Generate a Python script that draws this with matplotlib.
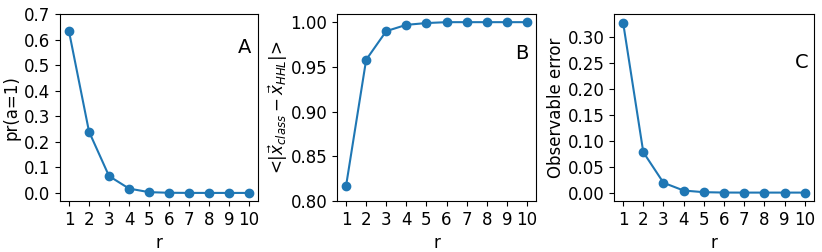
import numpy as np
import matplotlib
matplotlib.use("Agg")
import matplotlib.pyplot as plt

r = list(range(1, 11))
pr_a1 = [0.632, 0.240, 0.066, 0.017, 0.003, 0.0006, 0.0001, 0.0, 0.0, 0.0]
overlap = [0.817, 0.958, 0.990, 0.997, 0.999, 1.0, 1.0, 1.0, 1.0, 1.0]
obs_err = [0.328, 0.078, 0.019, 0.004, 0.0008, 0.0001, 0.0, 0.0, 0.0, 0.0]

fig = plt.figure(figsize=(8.22, 2.52), dpi=100)
axA = fig.add_axes([0.073, 0.202, 0.241, 0.742])
axB = fig.add_axes([0.410, 0.202, 0.242, 0.742])
axC = fig.add_axes([0.747, 0.202, 0.243, 0.742])

color = '#1f77b4'
fs = 12

axA.plot(r, pr_a1, 'o-', color=color)
axA.set_ylim(-0.032, 0.7)
axA.set_yticks(np.arange(0, 0.71, 0.1))
axA.set_ylabel('pr(a=1)', fontsize=fs)
axA.yaxis.set_label_coords(-0.2, 0.5)
axA.text(0.93, 0.82, 'A', transform=axA.transAxes, fontsize=14, ha='center', va='center')

axB.plot(r, overlap, 'o-', color=color)
axB.set_ylim(0.8, 1.009)
axB.set_yticks([0.80, 0.85, 0.90, 0.95, 1.00])
axB.set_ylabel(r'<|$\vec{x}_{class} - \vec{x}_{HHL}$|>', fontsize=fs)
axB.yaxis.set_label_coords(-0.235, 0.5)
axB.text(0.93, 0.79, 'B', transform=axB.transAxes, fontsize=14, ha='center', va='center')

axC.plot(r, obs_err, 'o-', color=color)
axC.set_yticks(np.arange(0, 0.31, 0.05))
axC.set_ylabel('Observable error', fontsize=fs)
axC.yaxis.set_label_coords(-0.245, 0.5)
axC.text(0.94, 0.74, 'C', transform=axC.transAxes, fontsize=14, ha='center', va='center')

for ax in (axA, axB, axC):
    ax.set_xticks(r)
    ax.set_xlabel('r', fontsize=fs)
    ax.tick_params(labelsize=fs)

fig.savefig('out.png', dpi=100)
